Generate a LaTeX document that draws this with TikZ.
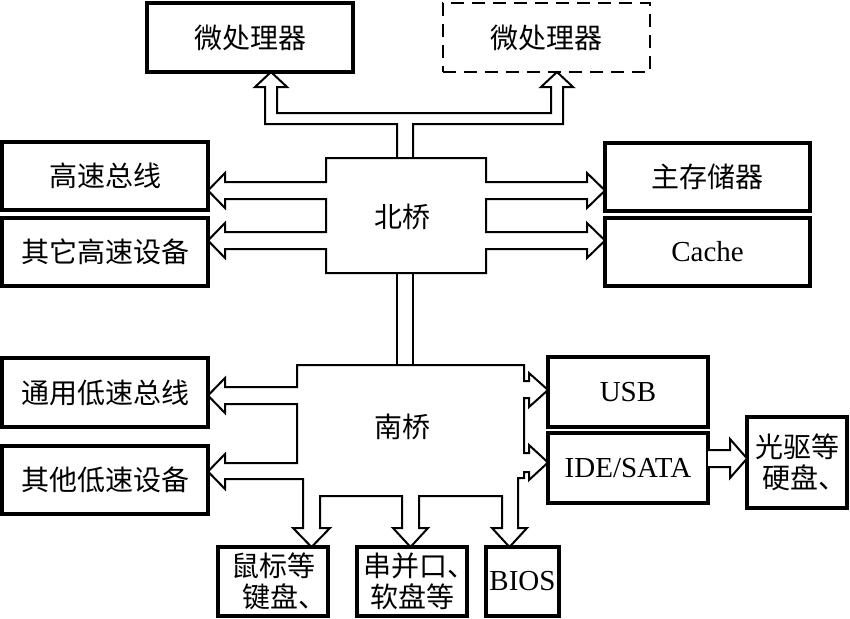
\documentclass[tikz,border=0pt]{standalone}
\usepackage{fontspec}
\setmainfont{Liberation Serif}
\newfontfamily\cjk{Noto Sans CJK SC}
\newcommand\diafs{\fontsize{28}{31}\selectfont}
\newcommand\latfs{\fontsize{29}{31}\selectfont}
\newcommand\halfdun{\makebox[0.5em][l]{、}}
\begin{document}
\begin{tikzpicture}[x=1pt,y=-1pt,
  box/.style 2 args={draw, line width=3.1pt, minimum width=#1, minimum height=#2,
    inner sep=0pt, outer sep=0pt, align=center},
  cj/.style={font=\diafs\cjk},
  lt/.style={font=\latfs},
  outl/.style={line width=2pt, line join=miter},
  fat/.style={line width=2pt, line join=miter, fill=white}]
\useasboundingbox (0,0) rectangle (850,618);

% ---------- boxes ----------
\node[box={206}{69}, cj] (mp1) at (250,37.5) {微处理器};
\node[box={207}{69}, cj, dashed, dash pattern=on 13pt off 8pt, line width=2.4pt] (mp2) at (546.5,37.5) {微处理器};
\node[box={206}{68}, cj] (hsb) at (105,176) {高速总线};
\node[box={206}{68}, cj] (ohs) at (105,252) {其它高速设备};
\node[box={205}{68}, cj] (mem) at (707.5,177) {主存储器};
\node[box={205}{68}, lt] (cache) at (707.5,252) {Cache};
\node[box={206}{69}, cj] (gen) at (105,392.5) {通用低速总线};
\node[box={206}{68}, cj] (olo) at (105,480) {其他低速设备};
\node[box={160}{70}, lt] (usb) at (628,392) {USB};
\node[box={160}{70}, lt] (ide) at (628,468) {IDE/SATA};
\node[box={100}{91}, cj] (opt) at (797,462.5) {光驱等\\硬盘\halfdun};
\node[box={110}{69}, cj] (kb) at (273,581.5) {鼠标等\\\hspace{8pt}键盘\halfdun};
\node[box={110}{69}, cj] (ser) at (412,581.5) {串并口\halfdun\\软盘等\hspace{14pt}};
\node[box={73}{69}, lt] (bios) at (522.5,581.5) {BIOS};

% ---------- bridge labels ----------
\node[cj] (nb) at (402,217) {北桥};
\node[cj] (sb) at (402,427) {南桥};

% ---------- north bridge outline with its four fat arrows ----------
\draw[outl] (326,158) -- (486,158) -- (486,182) -- (587,182) -- (587,173)
  -- (mem.west |- 0,190.5) -- (587,208) -- (587,199) -- (486,199) -- (486,232)
  -- (587,232) -- (587,223) -- (cache.west |- 0,240.5) -- (587,258) -- (587,249)
  -- (486,249) -- (486,273) -- (326,273) -- (326,249) -- (225,249) -- (225,258)
  -- (ohs.east |- 0,240.5) -- (225,223) -- (225,232) -- (326,232) -- (326,199)
  -- (225,199) -- (225,208) -- (hsb.east |- 0,190.5) -- (225,173) -- (225,182)
  -- (326,182) -- cycle;

% ---------- bus from north bridge up to both processors ----------
\draw[outl] (397,158) -- (397,124) -- (265,124) -- (265,87) -- (255,87)
  -- (271,0 |- mp1.south) -- (287,87) -- (277,87) -- (277,113) -- (551,113)
  -- (551,87) -- (541,87) -- (557,0 |- mp2.south) -- (573,87) -- (563,87)
  -- (563,124) -- (413,124) -- (413,158);

% ---------- link north bridge -- south bridge ----------
\draw[outl] (397,273) -- (397,365);
\draw[outl] (413,273) -- (413,365);

% ---------- south bridge outline with its fat arrows ----------
\draw[outl] (297,365) -- (524,365) -- (524,381) -- (529,381) -- (529,373)
  -- (usb.west |- 0,390) -- (529,407) -- (529,398) -- (524,398) -- (524,453)
  -- (529,453) -- (529,445) -- (ide.west |- 0,462.5) -- (529,480) -- (529,472)
  -- (524,472) -- (524,478) -- (518,478) -- (518,528) -- (527,528)
  -- (bios.north -| 509.5,0) -- (492,528) -- (502,528) -- (502,496)
  -- (419,496) -- (419,528) -- (428,528) -- (ser.north -| 410.5,0)
  -- (393,528) -- (402,528) -- (402,496) -- (320,496) -- (320,528) -- (330,528)
  -- (kb.north -| 311.5,0) -- (293,528) -- (303,528) -- (303,479) -- (225,479)
  -- (225,489) -- (olo.east |- 0,471.5) -- (225,454) -- (225,463) -- (297,463)
  -- (297,404) -- (225,404) -- (225,413) -- (gen.east |- 0,395.5) -- (225,378)
  -- (225,387) -- (297,387) -- cycle;

% ---------- IDE/SATA to drives ----------
\path[fat, draw] (ide.east |- 0,450) -- (730,450) -- (730,439)
  -- (opt.west |- 0,458.5) -- (730,478) -- (730,467) -- (ide.east |- 0,467);
\end{tikzpicture}
\end{document}
